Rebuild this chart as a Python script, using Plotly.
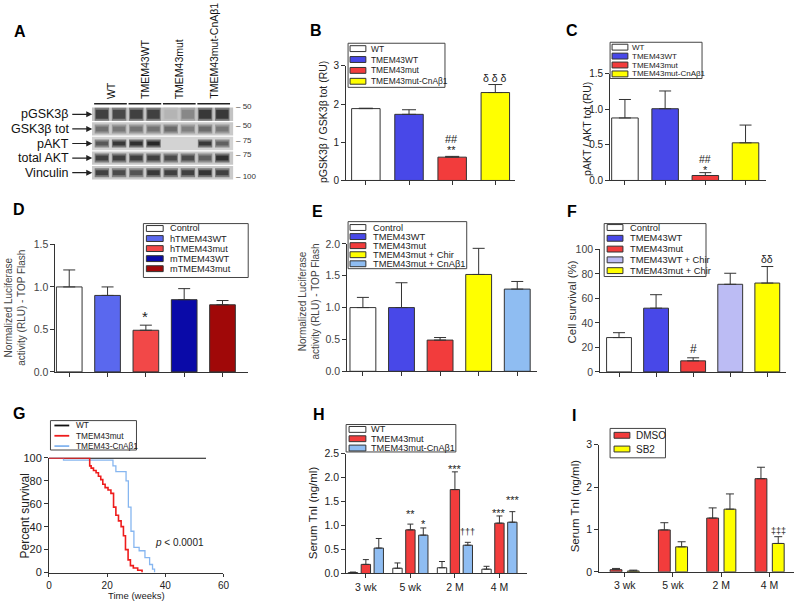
import plotly.graph_objects as go

# ---------------- DATA ----------------
blot_rows = ["pGSK3β", "GSK3β tot", "pAKT", "total AKT", "Vinculin"]
blot_groups = ["WT", "TMEM43WT", "TMEM43mut", "TMEM43mut-CnAβ1"]
blot_mw = ["50", "50", "75", "75", "100"]
# band darkness per row (8 lanes, 2 per group)
blot_pgsk = [0.85, 0.80, 0.85, 0.85, 0.12, 0.40, 0.90, 0.90]
blot_gsk = [0.55, 0.50, 0.52, 0.52, 0.58, 0.45, 0.58, 0.50]
blot_pakt = [0.70, 0.90, 0.95, 1.00, 0.0, 0.0, 0.90, 0.65]
blot_akt = [0.85, 0.85, 0.85, 0.85, 0.78, 0.78, 0.65, 0.95]
blot_vinc = [0.85, 0.78, 0.72, 0.90, 0.85, 0.85, 0.92, 0.85]

B_groups = ["WT", "TMEM43WT", "TMEM43mut", "TMEM43mut-CnAβ1"]
B_values = [1.88, 1.73, 0.61, 2.30]
B_errors = [0.01, 0.12, 0.02, 0.21]

C_groups = ["WT", "TMEM43WT", "TMEM43mut", "TMEM43mut-CnAβ1"]
C_values = [0.88, 1.01, 0.07, 0.53]
C_errors = [0.26, 0.25, 0.04, 0.25]

D_groups = ["Control", "hTMEM43WT", "hTMEM43mut", "mTMEM43WT", "mTMEM43mut"]
D_values = [1.00, 0.90, 0.49, 0.85, 0.79]
D_errors = [0.20, 0.10, 0.06, 0.13, 0.05]

E_groups = ["Control", "TMEM43WT", "TMEM43mut", "TMEM43mut + Chir", "TMEM43mut + CnAβ1"]
E_values = [1.00, 1.00, 0.49, 1.52, 1.29]
E_errors = [0.16, 0.39, 0.04, 0.41, 0.12]

F_groups = ["Control", "TMEM43WT", "TMEM43mut", "TMEM43WT + Chir", "TMEM43mut + Chir"]
F_values = [28, 52, 9, 71.5, 72.5]
F_errors = [4, 11, 2.5, 9, 13.5]

G_series = ["WT", "TMEM43mut", "TMEM43-CnAβ1"]
G_wt_t = [0, 54]
G_wt_s = [100, 100]
G_mut_t = [0, 14, 14.5, 15.3, 16.2, 17, 17.8, 18.5, 19.3, 20.3, 21.3, 22.2, 23, 23.9, 24.8, 25.6, 26.3, 27.2, 28, 29, 30.5, 32]
G_mut_s = [100, 93, 91, 89, 87, 84, 81, 77, 74, 72, 69, 57, 50, 45, 40, 32, 20, 11, 6, 4, 2, 0]
G_cna_t = [0, 5, 22, 23, 26.5, 27.3, 28.2, 29.2, 31, 33, 34.6, 35.6, 36.3]
G_cna_s = [100, 98, 93, 88, 80, 57, 36, 22, 19, 13, 7, 3, 0]

H_times = ["3 wk", "5 wk", "2 M", "4 M"]
H_series = ["WT", "TMEM43mut", "TMEM43mut-CnAβ1"]
H_wt = [0.02, 0.11, 0.12, 0.09]
H_wt_err = [0.01, 0.11, 0.13, 0.06]
H_mut = [0.19, 0.91, 1.75, 1.05]
H_mut_err = [0.10, 0.12, 0.37, 0.15]
H_cna = [0.53, 0.80, 0.59, 1.07]
H_cna_err = [0.20, 0.15, 0.06, 0.22]

I_times = ["3 wk", "5 wk", "2 M", "4 M"]
I_series = ["DMSO", "SB2"]
I_dmso = [0.05, 0.99, 1.27, 2.20]
I_dmso_err = [0.03, 0.17, 0.24, 0.27]
I_sb2 = [0.02, 0.59, 1.48, 0.67]
I_sb2_err = [0.02, 0.12, 0.36, 0.16]

# ---------------- STYLE / HELPERS ----------------
W, H = 800, 604
FONT = "Liberation Sans, Arial, sans-serif"
WHITE = "#ffffff"
BLUE = "#4848e8"
RED = "#f23c3c"
YELLOW = "#ffff00"
LBLUE = "#8fbdf2"
HBLUE = "#5a68ee"
DBLUE = "#0a0aa8"
DRED = "#a00808"
LAV = "#bcbcf4"
EDGE = "#333333"


def fx(x):
    return x / W


def fy(y):
    return 1 - y / H


fig = go.Figure()
layout = {}
annotations = []
shapes = []


def axis_style(fs, col="#222", ticklen=4):
    return dict(showline=True, linecolor=EDGE, linewidth=1, ticks="outside", ticklen=ticklen,
                tickwidth=1, tickcolor=EDGE, showgrid=False, zeroline=False,
                tickfont=dict(family=FONT, size=fs, color=col), fixedrange=True)


def names(n):
    if n == 1:
        return "xaxis", "yaxis", "x", "y"
    return f"xaxis{n}", f"yaxis{n}", f"x{n}", f"y{n}"


def add_axes(n, xpx, ypx, xr, yr, xtv, xtt, ytv, ytt, fs=10, col="#222", xfs=None, xticklen=4):
    kx, ky, rx, ry = names(n)
    layout[kx] = dict(domain=[fx(xpx[0]), fx(xpx[1])], range=xr, anchor=ry,
                      tickvals=xtv, ticktext=xtt, **axis_style(xfs or fs, col, xticklen))
    layout[ky] = dict(domain=[fy(ypx[1]), fy(ypx[0])], range=yr, anchor=rx,
                      tickvals=ytv, ticktext=ytt, **axis_style(fs, col))
    return rx, ry


def ann(text, x, y, size=10, color="#222", angle=0, xanchor="center", yanchor="middle", **kw):
    d = dict(text=text, x=fx(x), y=fy(y), xref="paper", yref="paper", showarrow=False,
             font=dict(family=FONT, size=size, color=color), textangle=angle,
             xanchor=xanchor, yanchor=yanchor)
    d.update(kw)
    annotations.append(d)


def err(arr, w, col=EDGE):
    return dict(type="data", array=arr, arrayminus=[0] * len(arr), symmetric=False,
                color=col, thickness=1, width=w)


def legend(box, labels, colors, y0, step, sw, tx, fs, kind="bar"):
    shapes.append(dict(type="rect", xref="paper", yref="paper", x0=fx(box[0]), x1=fx(box[2]),
                       y0=fy(box[3]), y1=fy(box[1]), line=dict(color="#444", width=1),
                       fillcolor="white", layer="above"))
    for i, (lab, c) in enumerate(zip(labels, colors)):
        yy = y0 + i * step
        if kind == "bar":
            shapes.append(dict(type="rect", xref="paper", yref="paper", x0=fx(sw[0]), x1=fx(sw[1]),
                               y0=fy(yy + 3), y1=fy(yy - 3), line=dict(color=EDGE, width=1),
                               fillcolor=c, layer="above"))
        else:
            shapes.append(dict(type="line", xref="paper", yref="paper", x0=fx(sw[0]), x1=fx(sw[1]),
                               y0=fy(yy), y1=fy(yy), line=dict(color=c, width=1.8), layer="above"))
        ann(lab, tx, yy, size=fs, xanchor="left")


def bar_panel(n, vals, errs, colors, width, capw):
    rx, ry = names(n)[2:]
    fig.add_trace(go.Bar(x=list(range(len(vals))), y=vals, width=width, xaxis=rx, yaxis=ry,
                         marker=dict(color=colors, line=dict(color=EDGE, width=1)),
                         error_y=err(errs, capw), showlegend=False, hoverinfo="skip"))


# ---------------- PANEL A : blot ----------------
rx, ry = "x", "y"
layout["xaxis"] = dict(domain=[fx(90), fx(233)], range=[-0.575, 7.644], visible=False, fixedrange=True)
layout["yaxis"] = dict(domain=[fy(178), fy(95)], range=[4.53, -1.04], visible=False, fixedrange=True,
                       anchor="x")
row_bg = ["#c3c3c3", "#c9c9c9", "#d3d3d3", "#c7c7c7", "#cacaca"]
row_w = [9, 5, 4, 5, 5]
blot_data = [blot_pgsk, blot_gsk, blot_pakt, blot_akt, blot_vinc]
for r, bg in enumerate(row_bg):
    shapes.append(dict(type="rect", xref="x", yref="y", x0=-0.575, x1=7.644, y0=r - 0.46, y1=r + 0.46,
                       fillcolor=bg, line=dict(width=0), layer="below"))
for r, row in enumerate(blot_data):
    for lane, d in enumerate(row):
        if d <= 0:
            continue
        g = int(200 - 160 * d)
        gh = int(200 - 90 * d)
        fig.add_trace(go.Scatter(x=[lane - 0.42, lane + 0.42], y=[r, r], mode="lines", xaxis=rx, yaxis=ry,
                                 line=dict(color=f"rgb({gh},{gh},{gh})", width=row_w[r] + 4),
                                 showlegend=False, hoverinfo="skip"))
        fig.add_trace(go.Scatter(x=[lane - 0.36, lane + 0.36], y=[r, r], mode="lines", xaxis=rx, yaxis=ry,
                                 line=dict(color=f"rgb({g},{g},{g})", width=row_w[r]),
                                 showlegend=False, hoverinfo="skip"))
for gi, gname in enumerate(blot_groups):
    fig.add_trace(go.Scatter(x=[2 * gi - 0.45, 2 * gi + 1.45], y=[-0.72, -0.72], mode="lines",
                             xaxis=rx, yaxis=ry, line=dict(color="#222", width=1.5), cliponaxis=False,
                             showlegend=False, hoverinfo="skip"))
    annotations.append(dict(text=gname, x=2 * gi + 0.5, xref="x", y=fy(97), yref="paper",
                            showarrow=False, textangle=-90, xanchor="center", yanchor="bottom",
                            font=dict(family=FONT, size=10.5, color="#111")))
for r, lab in enumerate(blot_rows):
    annotations.append(dict(text=lab, x=-0.56, xref="x", y=r, yref="y", ax=-21, ay=0, showarrow=True,
                            xanchor="right", yanchor="middle", arrowhead=2, arrowsize=1, arrowwidth=1.2,
                            arrowcolor="#222", standoff=0, startstandoff=1,
                            font=dict(family=FONT, size=12.5, color="#111")))
mw_y = [103, 122, 137, 151, 174]
for lab, yy in zip(blot_mw, mw_y):
    ann("– " + lab, 234, yy, size=8, color="#333", xanchor="left")

# ---------------- PANEL B ----------------
add_axes(2, (347, 518), (61, 178), [-0.458, 3.46], [0, 3], list(range(4)), [""] * 4,
         [0, 1, 2, 3], ["0", "1", "2", "3"], fs=10)
bar_panel(2, B_values, B_errors, [WHITE, BLUE, RED, YELLOW], 0.66, 7)
legend((349, 38, 447, 83), B_groups, [WHITE, BLUE, RED, YELLOW], 43.5, 11.1, (351, 367), 370, 8.4)
ann("pGSK3β / GSK3β tot (RU)", 323, 118, size=10.5, angle=-90)
ann("##", 454, 136, size=11)
ann("**", 454, 147, size=11)
ann("δ δ δ", 498, 73, size=10.5)

# ---------------- PANEL C ----------------
add_axes(3, (614, 772), (69.3, 178), [-0.369, 3.517], [0, 1.5], list(range(4)), [""] * 4,
         [0, 0.5, 1.0, 1.5], ["0.0", "0.5", "1.0", "1.5"], fs=10)
bar_panel(3, C_values, C_errors, [WHITE, BLUE, RED, YELLOW], 0.66, 6)
legend((614, 37, 707, 74), C_groups, [WHITE, BLUE, RED, YELLOW], 42, 9.1, (616, 632), 634, 8)
ann("pAKT / AKT tot (RU)", 590, 125, size=10.5, angle=-90)
ann("##", 710, 156, size=10.5)
ann("*", 710, 167, size=11)

# ---------------- PANEL D ----------------
add_axes(4, (53, 248), (243.3, 373.3), [-0.361, 4.671], [0, 1.5], list(range(5)), [""] * 5,
         [0, 0.5, 1.0, 1.5], ["0.0", "0.5", "1.0", "1.5"], fs=10.5, col="#444")
D_colors = [WHITE, HBLUE, "#f24848", DBLUE, DRED]
bar_panel(4, D_values, D_errors, D_colors, 0.67, 6)
legend((142, 222, 248, 277), D_groups, D_colors, 227, 10.25, (145, 162), 167, 9.2)
ann("Normalized Luciferase<br>activity (RLU) - TOP Flash", 12, 308, size=10, color="#444", angle=-90)
ann("*", 144, 317, size=15)

# ---------------- PANEL E ----------------
add_axes(5, (348, 540), (242.7, 372.7), [-0.41, 4.51], [0, 2.0], list(range(5)), [""] * 5,
         [0, 0.5, 1.0, 1.5, 2.0], ["0.0", "0.5", "1.0", "1.5", "2.0"], fs=10.5, col="#444")
E_colors = [WHITE, BLUE, RED, YELLOW, LBLUE]
bar_panel(5, E_values, E_errors, E_colors, 0.67, 6)
legend((349, 220, 469, 268), E_groups, E_colors, 226, 9.25, (351, 367), 372, 9.3)
ann("Normalized Luciferase<br>activity (RLU) - TOP Flash", 309, 302, size=10, color="#444", angle=-90)

# ---------------- PANEL F ----------------
add_axes(6, (604, 792), (248.3, 373.3), [-0.507, 4.507], [0, 100], list(range(5)), [""] * 5,
         [0, 20, 40, 60, 80, 100], ["0", "20", "40", "60", "80", "100"], fs=10.5, col="#444")
F_colors = [WHITE, BLUE, RED, LAV, YELLOW]
bar_panel(6, F_values, F_errors, F_colors, 0.67, 6)
legend((608, 222, 711, 276), F_groups, F_colors, 226, 11, (611, 627), 632, 9.3)
ann("Cell survival (%)", 575, 302, size=11.5, color="#333", angle=-90)
ann("#", 698, 350, size=12)
ann("δδ", 773, 258, size=10.5)

# ---------------- PANEL G ----------------
rx, ry = add_axes(7, (46.5, 223), (461, 578), [0, 60], [0, 100], [0, 20, 40, 60],
                  ["0", "20", "40", "60"], [0, 20, 40, 60, 80, 100],
                  ["0", "20", "40", "60", "80", "100"], fs=11, xfs=10, xticklen=3)
fig.add_trace(go.Scatter(x=G_wt_t, y=G_wt_s, mode="lines", line=dict(color="#111", width=1.6),
                         xaxis=rx, yaxis=ry, showlegend=False, hoverinfo="skip", cliponaxis=False))
fig.add_trace(go.Scatter(x=G_cna_t, y=G_cna_s, mode="lines", line=dict(color="#86b6f0", width=1.3, shape="hv"),
                         xaxis=rx, yaxis=ry, showlegend=False, hoverinfo="skip", cliponaxis=False))
fig.add_trace(go.Scatter(x=G_mut_t, y=G_mut_s, mode="lines", line=dict(color="#ee1c1c", width=1.6, shape="hv"),
                         xaxis=rx, yaxis=ry, showlegend=False, hoverinfo="skip", cliponaxis=False))
legend((48, 423, 135, 453), G_series, ["#111", "#ee1c1c", "#86b6f0"], 428, 10.5, (52, 67), 72, 8.3, kind="line")
ann("Percent survival", 22, 520, size=12, angle=-90)
ann("Time (weeks)", 135, 601, size=9.5)
ann("<i>p</i> < 0.0001", 179, 547, size=10)

# ---------------- PANEL H ----------------
rx, ry = add_axes(8, (347, 530), (456.7, 579), [-0.444, 3.62], [0, 2.5], list(range(4)), H_times,
                  [0, 0.5, 1.0, 1.5, 2.0, 2.5], ["0.0", "0.5", "1.0", "1.5", "2.0", "2.5"], fs=10.5)
for k, (vals, errs, col) in enumerate([(H_wt, H_wt_err, WHITE), (H_mut, H_mut_err, RED),
                                       (H_cna, H_cna_err, LBLUE)]):
    fig.add_trace(go.Bar(x=[i + (k - 1) * 0.29 for i in range(4)], y=vals, width=0.21, xaxis=rx, yaxis=ry,
                         marker=dict(color=col, line=dict(color=EDGE, width=1)),
                         error_y=err(errs, 3), showlegend=False, hoverinfo="skip"))
legend((347, 427, 458, 455), H_series, [WHITE, RED, LBLUE], 432, 9.5, (350, 367), 370, 9.2)
ann("Serum TnI (ng/ml)", 313, 517, size=11.5, angle=-90)
ann("**", 412, 518, size=11)
ann("*", 425, 528, size=11)
ann("***", 457, 472, size=11)
ann("†††", 470, 537, size=9)
ann("***", 502, 517, size=11)
ann("***", 516, 504, size=11)

# ---------------- PANEL I ----------------
rx, ry = add_axes(9, (603, 800), (447.7, 577.3), [-0.527, 3.505], [0, 3], list(range(4)), I_times,
                  [0, 1, 2, 3], ["0", "1", "2", "3"], fs=10.5)
for k, (vals, errs, col) in enumerate([(I_dmso, I_dmso_err, RED), (I_sb2, I_sb2_err, YELLOW)]):
    fig.add_trace(go.Bar(x=[i + (2 * k - 1) * 0.179 for i in range(4)], y=vals, width=0.245, xaxis=rx, yaxis=ry,
                         marker=dict(color=col, line=dict(color=EDGE, width=1)),
                         error_y=err(errs, 4), showlegend=False, hoverinfo="skip"))
legend((614, 431, 670, 461), I_series, [RED, YELLOW], 438, 14, (618, 634), 638, 10)
ann("Serum TnI (ng/ml)", 578, 510, size=11.5, angle=-90)
ann("‡‡‡", 784, 536, size=9)

# ---------------- panel letters ----------------
for letter, x, y in [("A", 17, 26), ("B", 317, 25), ("C", 575, 25), ("D", 16, 208), ("E", 318, 210),
                     ("F", 575, 210), ("G", 16, 416), ("H", 320, 417), ("I", 578, 418)]:
    ann(f"<b>{letter}</b>", x, y, size=16, color="#000")

layout.update(dict(width=W, height=H, margin=dict(l=0, r=0, t=0, b=0), paper_bgcolor="white",
                   plot_bgcolor="white", showlegend=False, barmode="overlay",
                   annotations=annotations, shapes=shapes, font=dict(family=FONT)))
fig.update_layout(**layout)
fig.write_html("out.html", config={"displayModeBar": False},
               post_script="document.body.style.margin='0px';")
